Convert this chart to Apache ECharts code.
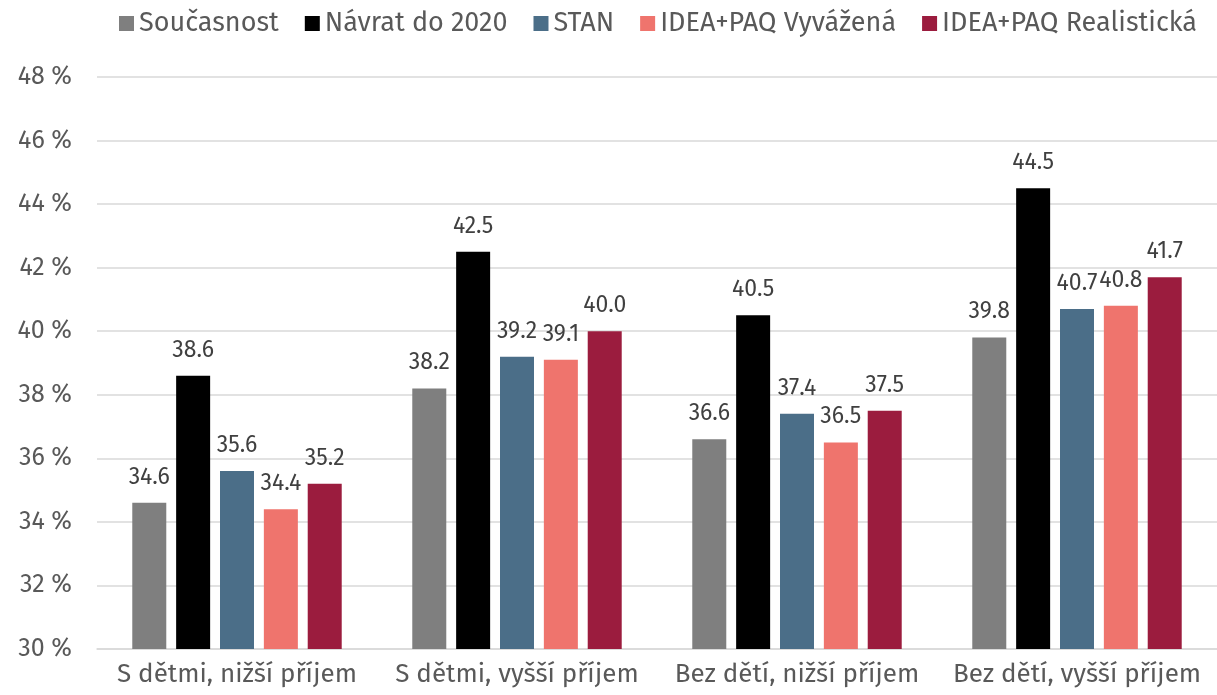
<!DOCTYPE html>
<html>
<head>
<meta charset="utf-8">
<script src="https://cdn.jsdelivr.net/npm/echarts@6/dist/echarts.min.js"></script>
<style>
  html, body { margin: 0; padding: 0; background: #fff; }
  #chart { width: 1217px; height: 695px; }
</style>
</head>
<body>
<div id="chart"></div>
<script>
const categories = ['S dětmi, nižší příjem', 'S dětmi, vyšší příjem', 'Bez dětí, nižší příjem', 'Bez dětí, vyšší příjem']
const seriesNames = ['Současnost', 'Návrat do 2020', 'STAN', 'IDEA+PAQ Vyvážená', 'IDEA+PAQ Realistická']
const soucasnost = [34.6, 38.2, 36.6, 39.8]
const navrat2020 = [38.6, 42.5, 40.5, 44.5]
const stan = [35.6, 39.2, 37.4, 40.7]
const vyvazena = [34.4, 39.1, 36.5, 40.8]
const realisticka = [35.2, 40.0, 37.5, 41.7]
const colors = ['#7f7f7f', '#000000', '#4b6e88', '#ef746d', '#9b1c3e']

const font = '"Fira Sans", "Noto Sans", sans-serif'
const values = [soucasnost, navrat2020, stan, vyvazena, realisticka]

const chart = echarts.init(document.getElementById('chart'))

const option = {
  animation: false,
  textStyle: { fontFamily: font },
  legend: {
    top: 5,
    left: 114,
    itemWidth: 15,
    itemHeight: 15,
    itemGap: 26,
    icon: 'rect',
    textStyle: { fontSize: 27, color: '#595959', fontFamily: font },
    data: seriesNames
  },
  grid: {
    left: 97,
    right: -10,
    top: 77,
    bottom: 46,
    containLabel: false
  },
  xAxis: {
    type: 'category',
    data: categories,
    axisLine: { lineStyle: { color: '#d9d9d9', width: 1.5 } },
    axisTick: { show: false },
    axisLabel: { interval: 0, fontSize: 26, color: '#595959', margin: 13, fontFamily: font }
  },
  yAxis: {
    type: 'value',
    min: 30,
    max: 48,
    interval: 2,
    axisLine: { show: false },
    axisTick: { show: false },
    axisLabel: {
      fontSize: 25,
      color: '#595959',
      margin: 25,
      fontFamily: font,
      formatter: v => v + ' %'
    },
    splitLine: { lineStyle: { color: '#d9d9d9', width: 1.5 } }
  },
  series: seriesNames.map((name, i) => ({
    name: name,
    type: 'bar',
    data: values[i],
    barWidth: 34,
    barGap: '29%',
    itemStyle: { color: colors[i] },
    label: {
      show: true,
      position: 'top',
      distance: 14,
      fontSize: 23,
      color: '#404040',
      fontFamily: font,
      formatter: p => p.value.toFixed(1)
    }
  }))
}

chart.setOption(option)
</script>
</body>
</html>
